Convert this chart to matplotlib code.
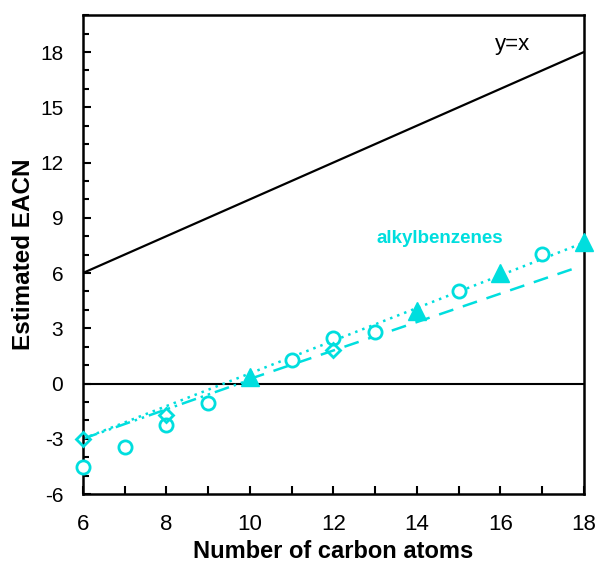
import matplotlib
matplotlib.use("Agg")
import matplotlib.pyplot as plt
from matplotlib.ticker import MultipleLocator

plt.rcParams['font.family'] = ['Liberation Sans', 'DejaVu Sans']
plt.rcParams['axes.unicode_minus'] = False

CYAN = '#00DEDE'

# Data
circle_x = [6, 7, 8, 9, 11, 12, 13, 15, 17]
circle_y = [-4.55, -3.45, -2.25, -1.05, 1.3, 2.5, 2.8, 5.05, 7.05]
tri_x = [10, 14, 16, 18]
tri_y = [0.35, 3.95, 6.0, 7.7]
diam_x = [6, 8, 12]
diam_y = [-3.0, -1.7, 1.8]

identity_x = [6, 18]
identity_y = [6, 18]
dotted_x = [6, 18]
dotted_y = [-3.0, 7.65]
dashdot_x = [6, 10]
dashdot_y = [-3.0, 0.2]
dashed_x = [10, 17.9]
dashed_y = [0.25, 6.35]

fig = plt.figure(figsize=(6.0, 5.64), dpi=100)
ax = fig.add_axes([0.138, 0.124, 0.835, 0.849])

ax.axhline(0, color='black', lw=1.5, zorder=1)
ax.plot(identity_x, identity_y, color='black', lw=1.6, zorder=2)
ax.plot(dotted_x, dotted_y, color=CYAN, lw=1.8, ls=(0, (1, 2)), zorder=2)
ax.plot(dashdot_x, dashdot_y, color=CYAN, lw=1.8, ls=(0, (6, 2, 1, 2, 1, 2)), zorder=2)
ax.plot(dashed_x, dashed_y, color=CYAN, lw=1.8, ls=(0, (6, 4)), zorder=2)

ax.plot(circle_x, circle_y, ls='none', marker='o', ms=9.5, mfc='white', mec=CYAN, mew=2,
        zorder=3, clip_on=False)
ax.plot(diam_x, diam_y, ls='none', marker='D', ms=7, mfc='none', mec=CYAN, mew=2,
        zorder=3, clip_on=False)
ax.plot(tri_x, tri_y, ls='none', marker='^', ms=13, mfc=CYAN, mec=CYAN, zorder=4, clip_on=False)

ax.text(14.55, 7.86, 'alkylbenzenes', color=CYAN, fontsize=13.5, fontweight='bold',
        ha='center', va='center')
ax.text(16.3, 18.4, 'y=x', color='black', fontsize=16, ha='center', va='center')

ax.set_xlim(6, 18)
ax.set_ylim(-6, 20)
ax.xaxis.set_major_locator(MultipleLocator(2))
ax.xaxis.set_minor_locator(MultipleLocator(1))
ax.yaxis.set_minor_locator(MultipleLocator(1))
ax.set_yticks([-6, -3, 0, 3, 6, 9, 12, 15, 18])

ax.tick_params(axis='both', which='both', direction='in', width=1.5)
ax.tick_params(axis='both', which='major', length=6)
ax.tick_params(axis='x', which='minor', length=6)
ax.tick_params(axis='y', which='minor', length=4)
ax.tick_params(axis='x', which='major', pad=14, labelsize=16)
ax.tick_params(axis='y', which='major', pad=14, labelsize=15)

for s in ax.spines.values():
    s.set_linewidth(1.8)

ax.set_xlabel('Number of carbon atoms', fontsize=17, fontweight='bold', labelpad=4)
ax.set_ylabel('Estimated EACN', fontsize=17.5, fontweight='bold', labelpad=4)

fig.savefig('out.png', dpi=100)
